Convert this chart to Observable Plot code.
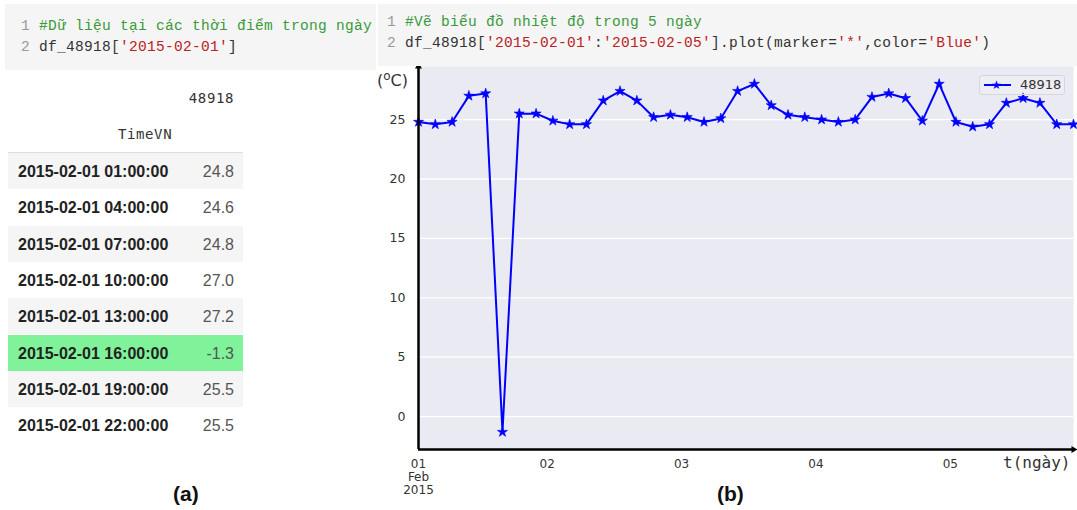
<!DOCTYPE html>
<html><head><meta charset="utf-8">
<script src="https://cdn.jsdelivr.net/npm/d3@7"></script>
<script src="https://cdn.jsdelivr.net/npm/@observablehq/plot@0.6"></script>
<style>
body{margin:0;width:1077px;height:510px;position:relative;background:#fff;overflow:hidden;font-family:"Liberation Sans",Arial,sans-serif;}
.cell{position:absolute;background:#f5f5f5;font-family:"Liberation Mono",monospace;font-size:14.5px;letter-spacing:0.3px;color:#333;white-space:pre;line-height:21px;box-sizing:border-box;z-index:2}
.ln{color:#999}.cm{color:#3a9a3a}.st{color:#ba2121}
.tbl{position:absolute;left:8px;top:80px;width:235px}
.hdr{position:absolute;font-family:"DejaVu Sans Mono",monospace;font-size:14px;letter-spacing:0.6px;color:#333;}
.row{position:absolute;left:0;width:235px;height:36.3px;}
.row .k{position:absolute;left:10px;top:10px;font-weight:bold;font-size:16px;color:#222}
.row .v{position:absolute;right:9px;top:10px;font-size:16px;color:#555}
.lab{position:absolute;font-weight:bold;font-size:21px;color:#111}
#chart{position:absolute;left:370px;top:56px;z-index:1}
.legend{position:absolute;left:979px;top:75px;width:86px;height:20px;border:1px solid #d6d6dc;border-radius:3px;background:rgba(255,255,255,0.15);z-index:3;box-sizing:border-box}
</style></head>
<body>
<div class="cell" style="left:5px;top:4px;width:371px;height:66px;padding:12px 0 0 16px"><span class="ln">1 </span><span class="cm">#Dữ liệu tại các thời điểm trong ngày</span>
<span class="ln">2 </span>df_48918[<span class="st">'2015-02-01'</span>]</div>
<div class="cell" style="left:378px;top:4px;width:699px;height:62px;padding:8px 0 0 9px"><span class="ln">1 </span><span class="cm">#Vẽ biểu đồ nhiệt độ trong 5 ngày</span>
<span class="ln">2 </span>df_48918[<span class="st">'2015-02-01'</span>:<span class="st">'2015-02-05'</span>].plot(marker=<span class="st">'*'</span>,color=<span class="st">'Blue'</span>)</div>
<div class="tbl" id="tbl"></div>
<div id="chart"></div>
<div id="ylab" style="position:absolute;left:377px;top:69px;font-family:'DejaVu Sans',sans-serif;font-size:16px;color:#333;z-index:3">(<sup style="font-size:12px">o</sup>C)</div>
<div id="xlab" style="position:absolute;left:1003px;top:453px;font-family:'DejaVu Sans Mono',monospace;font-size:16px;color:#333;">t(ngày)</div>
<div class="legend"><div style="position:absolute;left:4px;top:8px;width:27px;height:2px;background:blue"></div><div style="position:absolute;left:11px;top:0px;font-size:12px;color:blue;line-height:18px">★</div><div style="position:absolute;left:40px;top:1px;font-family:'DejaVu Sans',sans-serif;font-size:13px;color:#333" id="legtxt"></div></div>
<div class="lab" style="left:173px;top:482px">(a)</div>
<div class="lab" style="left:717px;top:482px">(b)</div>
<script>
const seriesName = "48918";
const indexName = "TimeVN";
const days = ["2015-02-01","2015-02-02","2015-02-03","2015-02-04","2015-02-05"];
const hours = ["01:00","04:00","07:00","10:00","13:00","16:00","19:00","22:00"];
const temps = [24.8,24.6,24.8,27.0,27.2,-1.3,25.5,25.5,
  24.9,24.6,24.6,26.6,27.4,26.6,25.2,25.4,
  25.2,24.8,25.1,27.4,28.0,26.2,25.4,25.2,
  25.0,24.8,25.0,26.9,27.2,26.8,24.9,28.0,
  24.8,24.4,24.6,26.4,26.8,26.4,24.6,24.6];
const yTicks = [0,5,10,15,20,25];
const yDomain = [-2.77, 29.47];
const xTickDates = ["2015-02-01T01:00","2015-02-02T00:00","2015-02-03T00:00","2015-02-04T00:00","2015-02-05T00:00"];
const xTickLabels = ["01\nFeb\n2015","02","03","04","05"];
const tableTimes = ["2015-02-01 01:00:00","2015-02-01 04:00:00","2015-02-01 07:00:00","2015-02-01 10:00:00","2015-02-01 13:00:00","2015-02-01 16:00:00","2015-02-01 19:00:00","2015-02-01 22:00:00"];
const tableValues = ["24.8","24.6","24.8","27.0","27.2","-1.3","25.5","25.5"];
const highlightRow = 5;

// table
const tbl = document.getElementById("tbl");
tbl.innerHTML = `<div class="hdr" style="right:9px;top:10px">${seriesName}</div><div class="hdr" style="left:110px;top:46px">${indexName}</div><div style="position:absolute;left:0;top:72px;width:235px;height:1px;background:#ddd"></div>`;
tableTimes.forEach((t,i)=>{
  const bg = i===highlightRow ? "#80f29a" : (i%2===0 ? "#f5f5f5" : "#fff");
  const r = document.createElement("div");
  r.className="row"; r.style.top=(73+i*36.3)+"px"; r.style.background=bg;
  r.innerHTML=`<span class="k">${t}</span><span class="v">${tableValues[i]}</span>`;
  tbl.appendChild(r);
});
document.getElementById("legtxt").textContent = seriesName;

// chart
let k = 0;
const data = days.flatMap(d => hours.map(h => ({t: new Date(`${d}T${h}`), v: temps[k++]})));
const xDomain = [data[0].t, data[data.length-1].t];
const ticks = xTickDates.map(s => new Date(s));
const chart = Plot.plot({
  width: 707, height: 454, marginLeft: 48, marginRight: 4, marginTop: 10, marginBottom: 61,
  style: {background: "transparent", overflow: "visible"},
  x: {type: "utc", domain: xDomain},
  y: {domain: yDomain},
  marks: [
    Plot.frame({fill: "#eaeaf2", stroke: null}),
    Plot.gridY(yTicks, {stroke: "white", strokeOpacity: 1, strokeWidth: 1.3}),
    Plot.axisY(yTicks, {tickSize: 0, tickPadding: 13, fontSize: 12.5, fill: "#333", label: null, fontFamily: "DejaVu Sans"}),
    Plot.axisX(ticks, {tickSize: 0, tickPadding: 9, fontSize: 12, fill: "#333", label: null, fontFamily: "DejaVu Sans", lineHeight: 1.08,
      tickFormat: d => xTickLabels[ticks.findIndex(t => +t === +d)]}),
    Plot.line(data, {x: "t", y: "v", stroke: "blue", strokeWidth: 2}),
    Plot.dot(data, {x: "t", y: "v", symbol: "star", r: 3.2, fill: "blue", stroke: "blue", strokeWidth: 0.6}),
    Plot.ruleX([xDomain[0]], {y1: yDomain[0], y2: yDomain[1], stroke: "black", strokeWidth: 2.5}),
    Plot.ruleY([yDomain[0]], {x1: xDomain[0], x2: xDomain[1], stroke: "black", strokeWidth: 2.5}),
    Plot.dot([0], {x: () => xDomain[0], y: () => yDomain[1], symbol: "triangle", r: 2.6, fill: "black", stroke: null}),
    Plot.dot([0], {x: () => xDomain[1], y: () => yDomain[0], symbol: "triangle", r: 2.6, fill: "black", stroke: null, rotate: 90})
  ]
});
document.getElementById("chart").appendChild(chart);
</script>
</body></html>
